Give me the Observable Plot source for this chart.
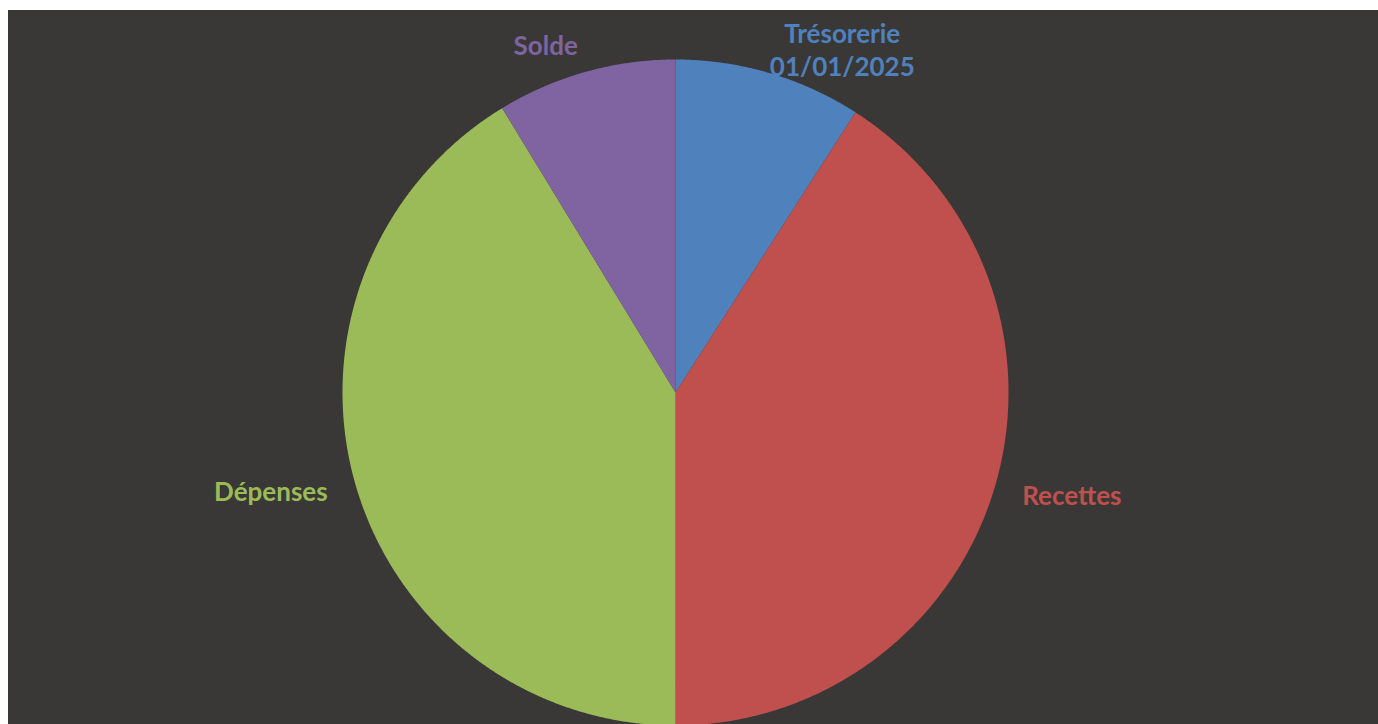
<!DOCTYPE html>
<html>
<head>
<meta charset="utf-8">
<script src="https://cdn.jsdelivr.net/npm/d3@7"></script>
<script src="https://cdn.jsdelivr.net/npm/@observablehq/plot@0.6"></script>
<style>
  html, body { margin: 0; padding: 0; background: #ffffff; }
  #frame { position: absolute; left: 8px; top: 10px; width: 1370px; height: 714px; background: #3a3836; overflow: hidden; }
</style>
</head>
<body>
<div id="frame"></div>
<script>
const categories = ["Trésorerie\n01/01/2025", "Recettes", "Dépenses", "Solde"];
const values = [12000, 54000, 54500, 11500];
const colors = ["#4f81bd", "#c0504d", "#9bbb59", "#8064a2"];

const data = categories.map((c, i) => ({name: c, value: values[i], color: colors[i]}));
const arcs = d3.pie().sort(null).value(d => d.value)(data);

// polygon points for each slice (unit circle, angle clockwise from top)
const pts = [];
for (const a of arcs) {
  const n = Math.max(2, Math.ceil((a.endAngle - a.startAngle) / (Math.PI / 720)));
  pts.push({name: a.data.name, color: a.data.color, x: 0, y: 0});
  for (let k = 0; k <= n; k++) {
    const t = a.startAngle + (a.endAngle - a.startAngle) * k / n;
    pts.push({name: a.data.name, color: a.data.color, x: Math.sin(t), y: Math.cos(t)});
  }
  pts.push({name: a.data.name, color: a.data.color, x: 0, y: 0});
}

const labelR = 1.085;
const labels = arcs.map(a => {
  const m = (a.startAngle + a.endAngle) / 2;
  return {name: a.data.name, color: a.data.color, x: labelR * Math.sin(m), y: labelR * Math.cos(m),
          right: Math.sin(m) >= 0, multi: a.data.name.includes("\n")};
});

const W = 1370, H = 714, cx = 667, cy = 382, R = 333;
const textStyle = {x: "x", y: "y", text: "name", fill: "color", lineAnchor: "middle", fontSize: 26,
  fontWeight: "bold", fontFamily: "Lato, 'Open Sans', sans-serif", lineHeight: 1.27};

const chart = Plot.plot({
  width: W, height: H,
  margin: 0,
  style: {background: "transparent", overflow: "visible"},
  x: {domain: [-1, 1], range: [cx - R, cx + R], axis: null},
  y: {domain: [-1, 1], range: [cy + R, cy - R], axis: null},
  marks: [
    Plot.line(pts, {x: "x", y: "y", z: "name", fill: "color", stroke: "none", curve: "linear"}),
    Plot.text(labels.filter(d => d.right && !d.multi), {...textStyle, textAnchor: "start"}),
    Plot.text(labels.filter(d => d.right && d.multi), {...textStyle, textAnchor: "middle", dx: 65, dy: 3}),
    Plot.text(labels.filter(d => !d.right), {...textStyle, textAnchor: "end"})
  ]
});
document.getElementById("frame").appendChild(chart);
</script>
</body>
</html>
